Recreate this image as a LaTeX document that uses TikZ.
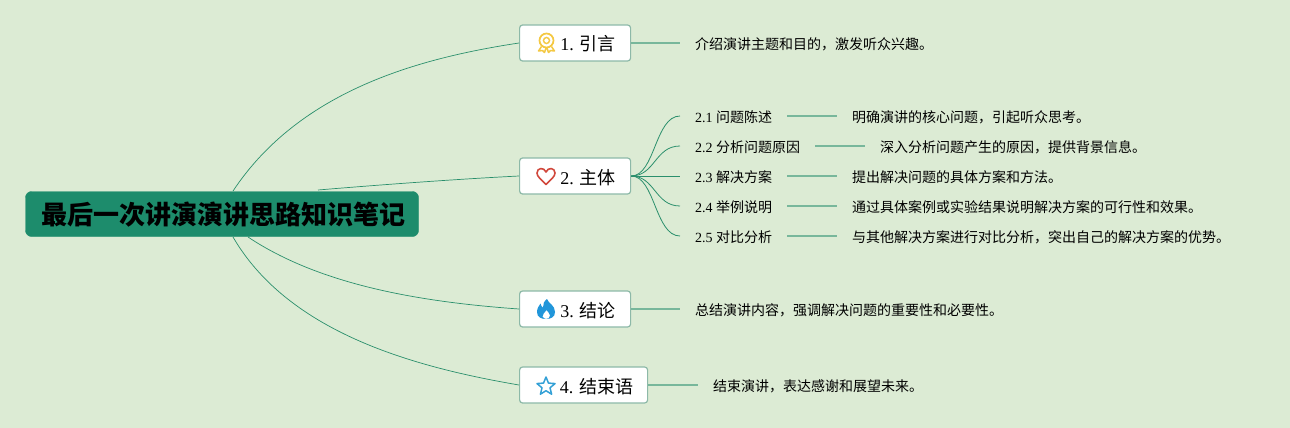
\documentclass[tikz,border=0pt]{standalone}
\usepackage{xcolor}
\usepackage{fontspec}
\setmainfont{Liberation Serif}
\newfontfamily\cjk{Noto Sans CJK SC}
\usetikzlibrary{positioning,calc}
\definecolor{bgcol}{HTML}{DCEBD4}
\definecolor{rootcol}{HTML}{1D8C6C}
\definecolor{edgecol}{HTML}{2A8F6C}
\definecolor{leafcol}{HTML}{78B79B}
\definecolor{framecol}{HTML}{8DB9A8}
\definecolor{ribboncol}{HTML}{F4C842}
\definecolor{heartcol}{HTML}{D1483C}
\definecolor{flamecol}{HTML}{2196DA}
\definecolor{starcol}{HTML}{33A0D6}
\tikzset{
  rootbox/.style={draw=rootcol,fill=rootcol,rounded corners=6pt,minimum width=393pt,minimum height=45pt,inner sep=0pt,text height=22pt,text depth=2pt,font=\fontsize{26}{30}\selectfont\cjk\bfseries},
  topicbox/.style={draw=framecol,fill=white,line width=1.2pt,rounded corners=3pt,minimum height=36pt,inner sep=0pt,anchor=west,text height=19pt,text depth=3pt,font=\fontsize{18}{22}\selectfont},
  leaf/.style={anchor=west,inner xsep=15pt,inner ysep=0pt,text height=16pt,text depth=3pt,font=\fontsize{14}{16}\selectfont},
  branch/.style={edgecol,line width=0.7pt},
  subline/.style={edgecol,line width=0.8pt},
  leafline/.style={leafcol,line width=1.3pt}
}
\begin{document}
\begin{tikzpicture}[x=1pt,y=-1pt]
    \fill[bgcol] (0,0) rectangle (1290,428);
    \useasboundingbox (0,0) rectangle (1290,428);
    % Root
    \node[rootbox] (root) at (222,214) {\hspace*{2pt}最后一次讲演演讲思路知识笔记};
    \coordinate (rootA) at (233,191);
    \coordinate (rootB) at (318,190);
    \coordinate (rootC) at (248,237);
    \coordinate (rootD) at (233,237);
    % Topics
    \node[topicbox,minimum width=111pt] (topicA) at (519,43) {\hspace*{26pt}1. {\cjk 引言}};
    \node[topicbox,minimum width=111pt] (topicB) at (519,176) {\hspace*{26pt}2. {\cjk 主体}};
    \node[topicbox,minimum width=111pt] (topicC) at (519,309) {\hspace*{26pt}3. {\cjk 结论}};
    \node[topicbox,minimum width=128pt] (topicD) at (519,385) {\hspace*{26pt}4. {\cjk 结束语}};
    \draw[branch] (rootA) .. controls (300,90) and (420,58) .. (topicA.west);
    \draw[branch] (rootB) .. controls (390,184) and (460,179) .. (topicB.west);
    \draw[branch] (rootC) .. controls (320,285) and (420,302) .. (topicC.west);
    \draw[branch] (rootD) .. controls (290,335) and (420,368) .. (topicD.west);
    % Details of 1, 3, 4
    \node[leaf] (noteA) at (680,43) {{\cjk 介绍演讲主题和目的，激发听众兴趣。}};
    \node[leaf] (noteC) at (680,309) {{\cjk 总结演讲内容，强调解决问题的重要性和必要性。}};
    \node[leaf] (noteD) at (698,385) {{\cjk 结束演讲，表达感谢和展望未来。}};
    \draw[leafline] (topicA.east) -- (noteA.west);
    \draw[leafline] (topicC.east) -- (noteC.west);
    \draw[leafline] (topicD.east) -- (noteD.west);
    % Parts of 2
    \node[leaf] (partA) at (680,116) {2.1 {\cjk 问题陈述}};
    \node[leaf] (partB) at (680,146) {2.2 {\cjk 分析问题原因}};
    \node[leaf] (partC) at (680,176) {2.3 {\cjk 解决方案}};
    \node[leaf] (partD) at (680,206) {2.4 {\cjk 举例说明}};
    \node[leaf] (partE) at (680,236) {2.5 {\cjk 对比分析}};
    \node[leaf] (textA) at (837,116) {{\cjk 明确演讲的核心问题，引起听众思考。}};
    \node[leaf] (textB) at (865,146) {{\cjk 深入分析问题产生的原因，提供背景信息。}};
    \node[leaf] (textC) at (837,176) {{\cjk 提出解决问题的具体方案和方法。}};
    \node[leaf] (textD) at (837,206) {{\cjk 通过具体案例或实验结果说明解决方案的可行性和效果。}};
    \node[leaf] (textE) at (837,236) {{\cjk 与其他解决方案进行对比分析，突出自己的解决方案的优势。}};
    \foreach \p/\yy in {A/116,B/146,C/176,D/206,E/236} {
      \draw[subline] (topicB.east) .. controls (655,176) and (655,\yy) .. (part\p.west);
      \draw[leafline] (part\p.east) -- (text\p.west);
    }
    % Icons
    \begin{scope}[shift={(546.5,43)}]
      \draw[ribboncol,line width=1.7pt] (0,-2.5) circle (7);
      \draw[ribboncol,line width=1.4pt] (0,-2.5) circle (3);
      \draw[ribboncol,line width=1.5pt,line join=round] (-5,3.5) -- (-8,8) -- (-4,7.5) -- (-2,9.5) -- (-0.5,5) (0.5,5) -- (2,9.5) -- (4,7.5) -- (8,8) -- (5,3.5);
    \end{scope}
    \begin{scope}[shift={(546,176.5)}]
      \draw[heartcol,line width=1.6pt,line join=round] (0,8) .. controls (-5,3) and (-9,0) .. (-9,-3.5) .. controls (-9,-9) and (-2,-9.5) .. (0,-4.5) .. controls (2,-9.5) and (9,-9) .. (9,-3.5) .. controls (9,0) and (5,3) .. (0,8) -- cycle;
    \end{scope}
    \begin{scope}[shift={(546,309)}]
      \fill[flamecol,even odd rule] (1,-10) .. controls (2,-6) and (9,-4) .. (9,3) .. controls (9,8) and (5,10) .. (0,10) .. controls (-5,10) and (-9,8) .. (-9,3) .. controls (-9,-1) and (-7,-3) .. (-5.5,-5.5) .. controls (-5,-3) and (-4,-2) .. (-3,-1.5) .. controls (-3,-5) and (-2,-8) .. (1,-10) -- cycle (0.5,1) .. controls (-1,4) and (-4,5) .. (-3.5,7.5) .. controls (-3,9) and (-1,10) .. (0,10) .. controls (2,10) and (4,9) .. (4,6.5) .. controls (4,4) and (1.5,3) .. (0.5,1) -- cycle;
    \end{scope}
    \begin{scope}[shift={(546,386.5)}]
      \draw[starcol,line width=1.5pt,line join=round] (270:9.5) -- (306:4.2) -- (342:9.5) -- (18:4.2) -- (54:9.5) -- (90:4.2) -- (126:9.5) -- (162:4.2) -- (198:9.5) -- (234:4.2) -- cycle;
    \end{scope}
\end{tikzpicture}
\end{document}
